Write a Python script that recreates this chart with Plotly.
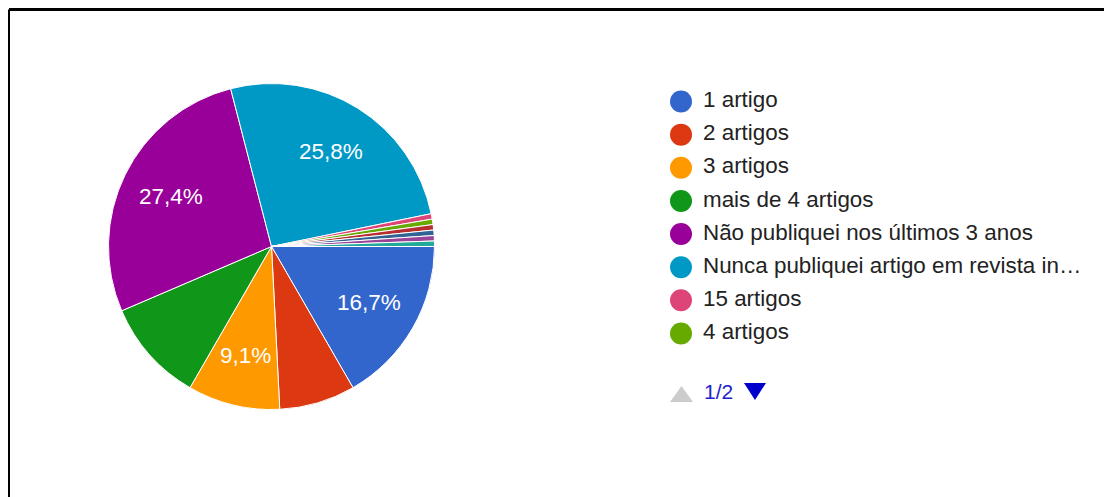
import math
import plotly.graph_objects as go

W, H = 1112, 497
OFF = 8  # the page body keeps an 8px margin
FW, FH = W - OFF, H - OFF

labels = ["1 artigo", "2 artigos", "3 artigos", "mais de 4 artigos",
          "Não publiquei nos últimos 3 anos",
          "Nunca publiquei artigo em revista indexada",
          "15 artigos", "4 artigos", "5 artigos", "6 artigos", "8 artigos", "10 artigos"]
counts = [31, 14, 17, 19, 51, 48, 1, 1, 1, 1, 1, 1]
colors = ["#3366cc", "#dc3912", "#ff9900", "#109618", "#990099", "#0099c6",
          "#dd4477", "#66aa00", "#b82e2e", "#316395", "#994499", "#22aa99"]
show_pct = [True, False, True, False, True, True] + [False] * 6

# first legend page (Google shows 8 entries, page 1/2)
legend_labels = ["1 artigo", "2 artigos", "3 artigos", "mais de 4 artigos",
                 "Não publiquei nos últimos 3 anos",
                 "Nunca publiquei artigo em revista in…",
                 "15 artigos", "4 artigos"]
page_text = "1/2"


def px(x):
    return (x - OFF) / FW


def py(y):
    return 1 - (y - OFF) / FH


font = "Liberation Sans, Arial, sans-serif"

# pie centre and radius in window pixels
cx, cy, r = 271.5, 246.5, 163

fig = go.Figure()

fig.add_trace(go.Pie(
    labels=labels, values=counts, sort=False, direction="clockwise", rotation=90,
    marker=dict(colors=colors, line=dict(color="white", width=1)),
    textinfo="none",
    domain=dict(x=[px(cx - r), px(cx + r)], y=[py(cy + r), py(cy - r)]),
    showlegend=False, hoverinfo="label+percent",
))

# percentage labels placed like Google Charts: on the slice bisector at ~0.7 r
total = sum(counts)
acc = 0
for v, s in zip(counts, show_pct):
    mid = (acc + v / 2) / total * 2 * math.pi
    acc += v
    if not s:
        continue
    lx = cx + 0.69 * r * math.cos(mid)
    ly = cy + 0.69 * r * math.sin(mid)
    fig.add_annotation(x=px(lx), y=py(ly), xref="paper", yref="paper",
                       text=f"{v / total * 100:.1f}%".replace(".", ","),
                       showarrow=False, xanchor="center", yanchor="middle",
                       font=dict(size=22.5, color="white", family=font))

n = len(legend_labels)
fig.add_trace(go.Scatter(
    x=[0] * n, y=legend_labels, mode="markers",
    marker=dict(size=22, color=colors[:n], line=dict(width=0)),
    cliponaxis=False, showlegend=False, hoverinfo="skip",
))
fig.add_trace(go.Scatter(
    x=[22 / (W - 681)] * n, y=legend_labels, mode="text", text=legend_labels,
    textposition="middle right", textfont=dict(size=22.4, color="#222222", family=font),
    cliponaxis=False, showlegend=False, hoverinfo="skip",
))

step = 33.14
top_row = 101.5
fig.update_xaxes(domain=[px(681), 1], range=[0, 1], visible=False, fixedrange=True)
fig.update_yaxes(domain=[py(top_row + (n - 0.5) * step), py(top_row - step / 2)],
                 type="category", categoryorder="array", categoryarray=legend_labels,
                 range=[n - 0.5, -0.5], visible=False, fixedrange=True)


# pager under the legend
def tri(x0, x1, ytop, ybot, up):
    if up:
        pts = [((x0 + x1) / 2, ytop), (x1, ybot), (x0, ybot)]
    else:
        pts = [(x0, ytop), (x1, ytop), ((x0 + x1) / 2, ybot)]
    return "M " + " L ".join(f"{px(a):.5f},{py(b):.5f}" for a, b in pts) + " Z"


fig.add_shape(type="path", xref="paper", yref="paper", path=tri(670, 693, 386, 402, True),
              fillcolor="#cccccc", line=dict(width=0))
fig.add_shape(type="path", xref="paper", yref="paper", path=tri(744, 766, 383, 400, False),
              fillcolor="#0000cc", line=dict(width=0))
fig.add_annotation(x=px(718), y=py(391), xref="paper", yref="paper", text=page_text,
                   showarrow=False, xanchor="center", yanchor="middle",
                   font=dict(size=21, color="#2222cc", family=font))

# frame of the screenshot (top and left edges)
fig.add_shape(type="line", xref="paper", yref="paper", x0=px(9), x1=1, y0=py(9.5), y1=py(9.5),
              line=dict(color="black", width=3))
fig.add_shape(type="line", xref="paper", yref="paper", x0=px(9), x1=px(9), y0=0, y1=py(9.5),
              line=dict(color="black", width=2))

fig.update_layout(width=FW, height=FH, margin=dict(l=0, r=0, t=0, b=0),
                  paper_bgcolor="white", plot_bgcolor="white",
                  separators=",.", font=dict(family=font))

fig.write_html("out.html")
